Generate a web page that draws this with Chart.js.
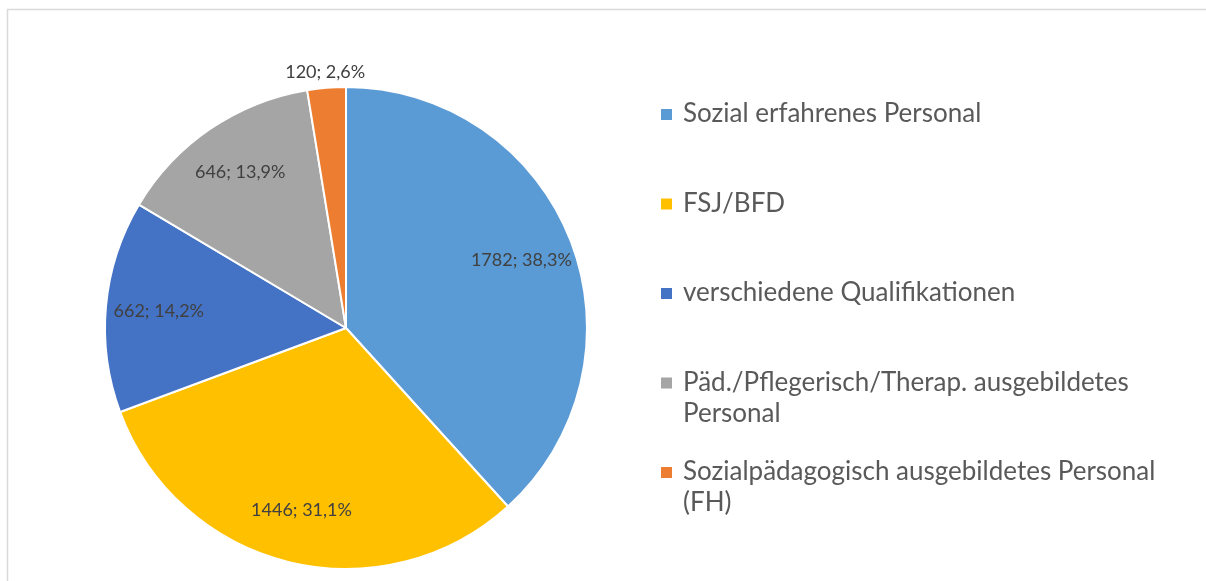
<!DOCTYPE html>
<html>
<head>
<meta charset="utf-8">
<script src="https://cdn.jsdelivr.net/npm/chart.js@4.4.1/dist/chart.umd.min.js"></script>
<style>
  body { margin: 0; background: #fff; }
  #wrap { position: relative; width: 1206px; height: 581px; }
</style>
</head>
<body>
<div id="wrap"><canvas id="pieChart" width="1206" height="581"></canvas></div>
<script>
const categories = [
    'Sozial erfahrenes Personal',
    'FSJ/BFD',
    'verschiedene Qualifikationen',
    'Päd./Pflegerisch/Therap. ausgebildetes Personal',
    'Sozialpädagogisch ausgebildetes Personal (FH)'
];
const counts = [1782, 1446, 662, 646, 120];
const sliceColors = ['#5B9BD5', '#FFC000', '#4472C4', '#A5A5A5', '#ED7D31'];

const FONT = 'Lato, "Open Sans", sans-serif';

// thin grey frame like the exported office chart (top + left edge visible)
const frame = {
    id: 'frame',
    beforeDraw(chart) {
        const ctx = chart.ctx;
        ctx.save();
        ctx.strokeStyle = '#d9d9d9';
        ctx.lineWidth = 1.5;
        ctx.beginPath();
        ctx.moveTo(7.5, 581);
        ctx.lineTo(7.5, 9.5);
        ctx.lineTo(1206, 9.5);
        ctx.stroke();
        ctx.restore();
    }
};

// "value; percent" labels, small slices go outside
const sliceLabels = {
    id: 'sliceLabels',
    afterDatasetsDraw(chart) {
        const ctx = chart.ctx;
        const meta = chart.getDatasetMeta(0);
        const total = counts.reduce((a, b) => a + b, 0);
        ctx.save();
        ctx.font = '18px ' + FONT;
        ctx.fillStyle = '#404040';
        ctx.textAlign = 'center';
        ctx.textBaseline = 'middle';
        meta.data.forEach((arc, i) => {
            const share = counts[i] / total;
            const mid = (arc.startAngle + arc.endAngle) / 2;
            const r = share < 0.05 ? arc.outerRadius + 16 : arc.outerRadius * 0.78;
            let x = arc.x + Math.cos(mid) * r;
            const y = arc.y + Math.sin(mid) * r;
            const pct = (share * 100).toFixed(1).replace('.', ',');
            ctx.fillText(counts[i] + '; ' + pct + '%', x, y);
        });
        ctx.restore();
    }
};

function wrapText(ctx, text, maxWidth) {
    const words = text.split(' ');
    const lines = [];
    let line = '';
    words.forEach(w => {
        const test = line ? line + ' ' + w : w;
        if (line && ctx.measureText(test).width > maxWidth) {
            lines.push(line);
            line = w;
        } else {
            line = test;
        }
    });
    if (line) lines.push(line);
    return lines;
}

// legend on the right, wrapped like the original
const sideLegend = {
    id: 'sideLegend',
    afterDraw(chart) {
        const ctx = chart.ctx;
        const boxX = 661, textX = 683, startY = 114, step = 89.5, lineH = 31;
        ctx.save();
        ctx.font = '26px ' + FONT;
        ctx.textBaseline = 'middle';
        categories.forEach((cat, i) => {
            const y = startY + i * step;
            ctx.fillStyle = sliceColors[i];
            ctx.fillRect(boxX, y - 5, 11, 11);
            ctx.fillStyle = '#595959';
            wrapText(ctx, cat, 495).forEach((ln, j) => ctx.fillText(ln, textX, y + j * lineH));
        });
        ctx.restore();
    }
};

new Chart(document.getElementById('pieChart'), {
    type: 'pie',
    data: {
        labels: categories,
        datasets: [{
            data: counts,
            backgroundColor: sliceColors,
            borderColor: '#ffffff',
            borderWidth: 2
        }]
    },
    options: {
        responsive: false,
        animation: false,
        layout: { padding: { top: 86, bottom: 11, left: 104, right: 618 } },
        plugins: { legend: { display: false }, tooltip: { enabled: false } }
    },
    plugins: [frame, sliceLabels, sideLegend]
});
</script>
</body>
</html>
